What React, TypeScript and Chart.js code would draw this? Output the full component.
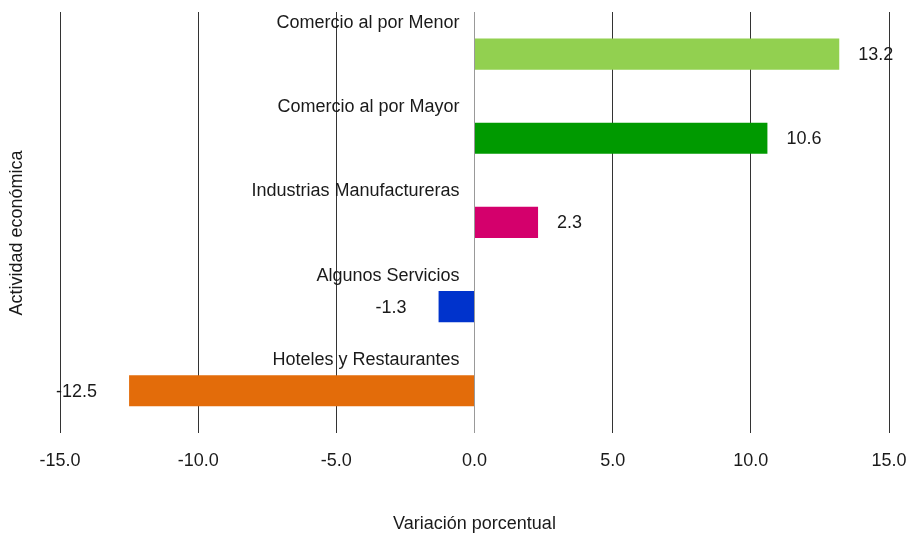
import React, { useEffect, useRef } from "react";
import { Chart, registerables } from "chart.js";

Chart.register(...registerables);

const categories = [
  "Comercio al por Menor",
  "Comercio al por Mayor",
  "Industrias Manufactureras",
  "Algunos Servicios",
  "Hoteles y Restaurantes",
];
const values = [13.2, 10.6, 2.3, -1.3, -12.5];
const barColors = ["#92D050", "#009A00", "#D4006C", "#0033CC", "#E36C0A"];
const xTitle = "Variación porcentual";
const yTitle = "Actividad económica";

const FONT = "'Liberation Sans', Arial, sans-serif";

const labelPlugin = {
  id: "labelPlugin",
  afterDatasetsDraw(chart: any) {
    const ctx = chart.ctx;
    const meta = chart.getDatasetMeta(0);
    const xs = chart.scales.x;
    const zero = xs.getPixelForValue(0);
    ctx.save();
    ctx.font = `18px ${FONT}`;
    ctx.fillStyle = "#1a1a1a";
    meta.data.forEach((bar: any, i: number) => {
      const yc = bar.y;
      ctx.textAlign = "right";
      ctx.textBaseline = "middle";
      ctx.fillText(categories[i], zero - 15, yc - 31);
      const v = values[i];
      const end = xs.getPixelForValue(v);
      const txt = v.toFixed(1);
      if (v >= 0) {
        ctx.textAlign = "left";
        ctx.fillText(txt, end + 19, yc + 1);
      } else {
        ctx.textAlign = "right";
        ctx.fillText(txt, end - 32, yc + 1);
      }
    });
    // y axis title
    ctx.translate(17, 233);
    ctx.rotate(-Math.PI / 2);
    ctx.textAlign = "center";
    ctx.textBaseline = "middle";
    ctx.fillText(yTitle, 0, 0);
    ctx.restore();
  },
};

export default function App() {
  const ref = useRef<HTMLCanvasElement | null>(null);
  useEffect(() => {
    if (!ref.current) return;
    const chart = new Chart(ref.current, {
      type: "bar",
      data: {
        labels: categories,
        datasets: [
          {
            data: values,
            backgroundColor: barColors,
            borderWidth: 0,
            categoryPercentage: 1,
            barPercentage: 0.37,
          },
        ],
      },
      options: {
        indexAxis: "y",
        animation: false,
        responsive: true,
        maintainAspectRatio: false,
        layout: { padding: { left: 60, right: 21, top: 12, bottom: 0 } },
        plugins: {
          legend: { display: false },
          tooltip: { enabled: false },
        },
        scales: {
          x: {
            min: -15,
            max: 15,
            afterFit: (s: any) => {
              s.paddingLeft = 0;
              s.paddingRight = 0;
            },
            ticks: {
              stepSize: 5,
              padding: 17,
              color: "#1a1a1a",
              font: { family: FONT, size: 18 },
              callback: (v: any) => Number(v).toFixed(1),
            },
            grid: {
              drawTicks: false,
              color: (c: any) => (c.tick && c.tick.value === 0 ? "#999999" : "#333333"),
              lineWidth: 1,
            },
            border: { display: false },
            title: {
              display: true,
              text: xTitle,
              color: "#1a1a1a",
              font: { family: FONT, size: 18 },
              padding: { top: 25, bottom: -2 },
            },
          },
          y: {
            display: false,
          },
        },
      },
      plugins: [labelPlugin],
    });
    return () => chart.destroy();
  }, []);
  return (
    <div style={{ position: "fixed", left: 0, top: 0, width: 910, height: 533, background: "#fff" }}>
      <canvas ref={ref} />
    </div>
  );
}
